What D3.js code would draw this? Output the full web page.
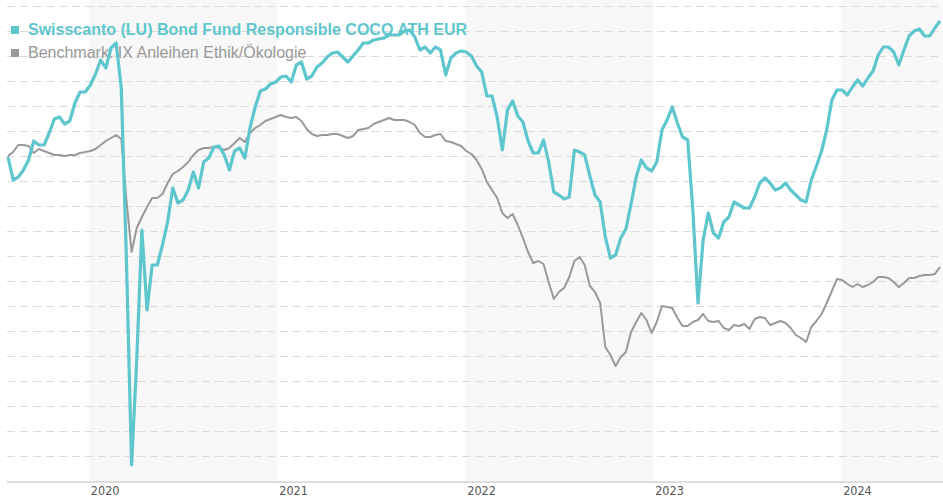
<!DOCTYPE html>
<html>
<head>
<meta charset="utf-8">
<script src="https://cdn.jsdelivr.net/npm/d3@7"></script>
<style>
  html, body { margin: 0; padding: 0; background: #fff; }
  svg { display: block; }
</style>
</head>
<body>
<div id="chart"></div>
<script>
// ---- Data (performance in %, sampled every 10 days) ----
const startDate = "2019-07-28";
const stepDays = 10;

const seriesNames = [
  "Swisscanto (LU) Bond Fund Responsible COCO ATH EUR",
  "Benchmark: IX Anleihen Ethik/Ökologie"
];

const fundValues = [
  -0.1,-2.4,-2.1,-1.4,-0.4,1.5,1.1,1.1,2.3,3.7,
  3.9,3.2,3.5,5.3,6.4,6.4,7.1,8.2,9.6,8.8,
  10.8,11.3,6.8,-10.4,-30.9,-20.4,-7.4,-15.4,-10.9,-10.9,
  -8.9,-6.6,-3.2,-4.7,-4.4,-3.4,-1.6,-3.2,-0.6,-0.2,
  0.9,1.0,0.1,-1.4,0.5,0.8,-0.2,2.8,4.9,6.5,
  6.7,7.2,7.4,7.9,8.0,7.4,9.1,9.4,7.7,8.0,
  8.9,9.3,9.9,10.3,10.4,9.9,9.4,10.0,10.6,11.3,
  11.3,11.6,11.7,11.8,12.1,12.1,12.1,12.5,12.6,11.9,
  10.6,10.9,10.3,10.9,10.6,8.1,9.8,10.3,10.5,10.4,
  10.0,9.0,8.4,6.0,6.0,3.9,0.6,4.6,5.5,4.0,
  3.4,1.5,0.3,0.3,1.6,-0.6,-3.6,-3.9,-4.3,-4.1,
  0.6,0.4,0.1,-2.0,-3.9,-4.6,-8.1,-10.2,-9.9,-8.2,
  -7.3,-4.8,-2.1,-0.4,-1.2,-1.5,-0.6,2.6,3.6,4.9,
  3.3,1.9,1.6,-5.4,-14.7,-8.4,-5.7,-7.7,-8.2,-6.6,
  -6.1,-4.6,-4.9,-5.2,-5.2,-4.1,-2.7,-2.2,-2.7,-3.4,
  -3.2,-2.7,-3.4,-3.9,-4.4,-4.6,-2.4,-1.0,0.5,2.6,
  5.6,6.6,6.6,6.1,6.9,7.6,7.0,7.8,8.5,10.1,
  10.9,10.9,10.4,9.1,10.6,12.0,12.5,12.7,12.0,12.0,
  12.8,13.5
];

const benchmarkValues = [
  0.0,0.4,1.1,1.1,1.0,0.3,0.7,0.5,0.3,0.1,
  0.1,0.0,0.1,0.1,0.3,0.4,0.5,0.7,1.1,1.5,
  1.8,2.1,1.7,-4.4,-9.6,-7.2,-6.1,-5.1,-4.2,-4.2,
  -3.8,-2.7,-1.8,-1.5,-1.1,-0.6,0.1,0.6,0.8,0.8,
  0.9,0.8,0.6,0.8,1.3,1.8,1.4,2.3,2.8,3.1,
  3.5,3.7,3.9,4.1,3.9,3.8,3.9,3.5,2.7,2.2,
  2.0,2.1,2.1,2.2,2.2,2.0,1.8,2.0,2.6,2.7,
  2.8,3.2,3.4,3.6,3.8,3.6,3.6,3.6,3.4,3.1,
  2.3,1.9,1.9,2.1,2.2,1.5,1.4,1.2,1.0,0.5,
  0.2,-0.4,-1.3,-2.6,-3.4,-4.2,-5.7,-6.2,-5.8,-6.9,
  -8.2,-9.6,-10.7,-10.5,-10.8,-12.6,-14.3,-13.6,-13.2,-12.1,
  -10.5,-10.1,-10.9,-13.0,-13.6,-14.7,-19.1,-19.9,-21.0,-20.1,
  -19.6,-17.6,-16.6,-15.7,-16.4,-17.7,-16.6,-15.0,-15.1,-15.2,
  -16.2,-17.0,-17.0,-16.6,-16.4,-15.8,-16.5,-16.6,-16.5,-17.2,
  -17.4,-16.9,-17.0,-16.8,-17.3,-16.3,-16.1,-16.2,-16.9,-16.7,
  -16.5,-16.7,-17.2,-17.9,-18.2,-18.6,-17.1,-16.5,-15.8,-14.7,
  -13.5,-12.3,-12.4,-12.8,-13.1,-12.8,-13.1,-12.9,-12.6,-12.1,
  -12.1,-12.2,-12.6,-13.1,-12.7,-12.2,-12.2,-12.0,-11.9,-11.9,
  -11.8,-11.1
];

const yTicks = [-32.5,-30,-27.5,-25,-22.5,-20,-17.5,-15,-12.5,-10,-7.5,-5,-2.5,0,2.5,5,7.5,10,12.5,15];
const yearLabels = ["2020","2021","2022","2023","2024"];
const shadedYears = ["2020","2022","2024"];

const colors = ["#5ec6cd", "#999999"];

(function () {
  // ---- Layout ----
  const W = 943, H = 500;
  const plotLeft = 8, plotRight = 940, plotTop = 6, plotBottom = 481;
  const chartLeft = 7, chartRight = 943;

  const t0 = new Date(startDate + "T00:00:00Z");
  const dates = fundValues.map((_, i) => d3.utcDay.offset(t0, i * stepDays));
  const yearStart = yr => new Date(yr + "-01-01T00:00:00Z");

  const x = d3.scaleUtc()
    .domain([dates[0], dates[dates.length - 1]])
    .range([plotLeft, plotRight]);
  const y = d3.scaleLinear().domain([-32.5, 15]).range([plotBottom, plotTop]);

  const svg = d3.select("#chart").append("svg")
    .attr("width", W).attr("height", H);

  // shaded year bands
  svg.append("g").selectAll("rect").data(shadedYears).join("rect")
    .attr("x", d => x(yearStart(d)))
    .attr("y", 0)
    .attr("width", d => Math.min(chartRight, x(yearStart(+d + 1))) - x(yearStart(d)))
    .attr("height", plotBottom)
    .attr("fill", "#f8f8f8");

  // gridlines
  svg.append("g").selectAll("line").data(yTicks.slice(1)).join("line")
    .attr("x1", chartLeft).attr("x2", chartRight)
    .attr("y1", d => Math.round(y(d)) + 0.5).attr("y2", d => Math.round(y(d)) + 0.5)
    .attr("stroke", "#dadada").attr("stroke-width", 1)
    .attr("stroke-dasharray", "8,5");

  // axis baseline
  svg.append("line")
    .attr("x1", chartLeft).attr("x2", chartRight)
    .attr("y1", y(-32.5) + 1).attr("y2", y(-32.5) + 1)
    .attr("stroke", "#dddddd").attr("stroke-width", 2);

  // x labels
  svg.append("g").selectAll("text").data(yearLabels).join("text")
    .attr("x", d => x(yearStart(d)) + 2)
    .attr("y", 495)
    .attr("font-family", "DejaVu Sans Condensed, DejaVu Sans, sans-serif")
    .attr("font-size", 12.5)
    .attr("fill", "#555")
    .text(d => d);

  // legend
  const legend = svg.append("g");
  seriesNames.forEach((name, i) => {
    const ly = i === 0 ? 35 : 58;
    legend.append("rect")
      .attr("x", 11).attr("y", ly - 9).attr("width", 8).attr("height", 8)
      .attr("fill", colors[i]);
    legend.append("text")
      .attr("x", 28).attr("y", ly)
      .attr("font-family", "Liberation Sans, Arial, sans-serif")
      .attr("font-size", 16)
      .attr("font-weight", i === 0 ? "bold" : "normal")
      .attr("fill", colors[i])
      .text(name);
  });

  // lines
  const line = d3.line()
    .x((d, i) => x(dates[i]))
    .y(d => y(d));

  svg.append("path")
    .datum(benchmarkValues)
    .attr("d", line)
    .attr("fill", "none")
    .attr("stroke", colors[1])
    .attr("stroke-width", 2)
    .attr("stroke-linejoin", "round");

  svg.append("path")
    .datum(fundValues)
    .attr("d", line)
    .attr("fill", "none")
    .attr("stroke", colors[0])
    .attr("stroke-width", 3.2)
    .attr("stroke-linejoin", "round");
})();
</script>
</body>
</html>
